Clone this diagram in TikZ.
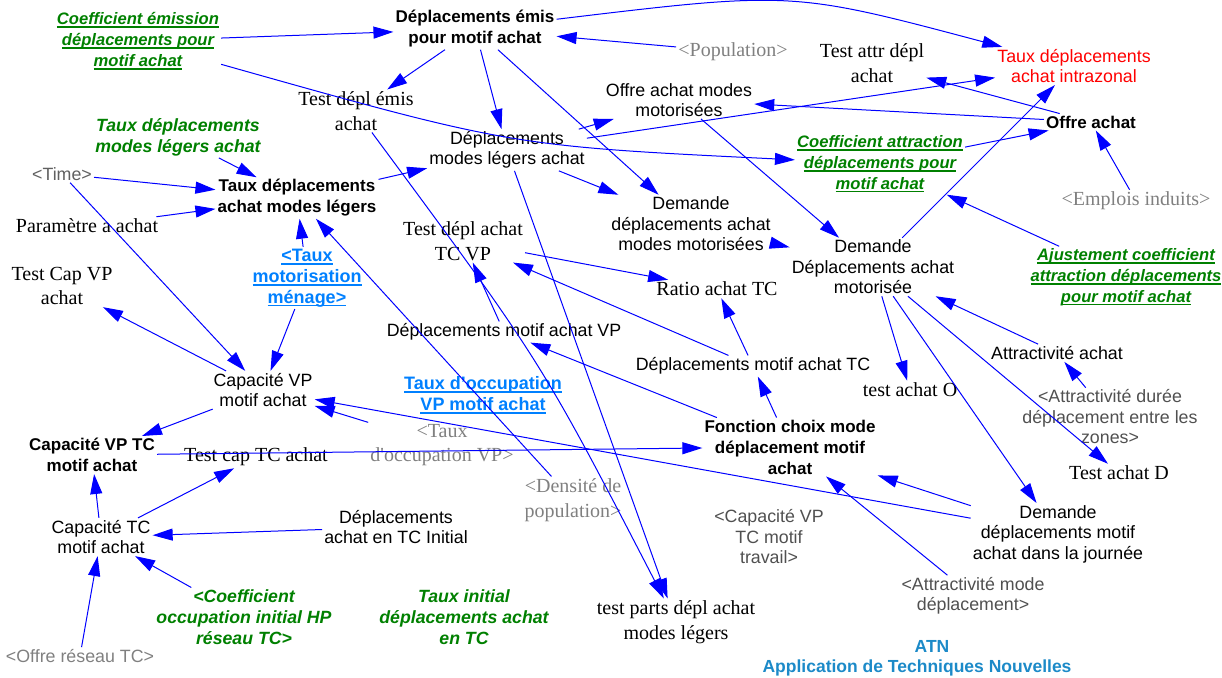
\documentclass[tikz,border=0pt]{standalone}
\usepackage{fontspec}
\setmainfont{Liberation Sans}
\newfontfamily\serifface{Liberation Serif}
\usetikzlibrary{arrows.meta}

\definecolor{linkblue}{RGB}{0,0,255}
\definecolor{levelgreen}{RGB}{0,128,0}
\definecolor{shadowblue}{RGB}{0,128,255}
\definecolor{atnblue}{RGB}{28,138,200}
\definecolor{lightgray}{RGB}{128,128,128}
\definecolor{midgray}{RGB}{96,96,96}
\definecolor{darkgray}{RGB}{80,80,80}

% underline at a fixed depth below the baseline
\newsavebox\ulinebox
\newcommand\ulx[1]{\sbox\ulinebox{#1}\rlap{\rule[-3.3pt]{\wd\ulinebox}{1.6pt}}\usebox\ulinebox}

\tikzset{
  var/.style={align=center, inner sep=2pt, font=\fontsize{17.8}{20.5}\selectfont},
  boldvar/.style={var, font=\fontsize{17}{21}\selectfont\bfseries},
  serifvar/.style={var, font=\serifface\fontsize{20}{24.5}\selectfont},
  greenvar/.style={var, text=levelgreen, font=\fontsize{17.7}{20.8}\selectfont\bfseries\itshape},
  greenulvar/.style={var, text=levelgreen, font=\fontsize{16.6}{20.8}\selectfont\bfseries\itshape},
  bluevar/.style={var, text=shadowblue, font=\fontsize{18}{20.8}\selectfont\bfseries},
  serifshadow/.style={serifvar, text=lightgray},
  conn/.style={draw=linkblue, line width=1pt, -{Triangle[length=20pt,width=12pt]}},
}

\begin{document}
\begin{tikzpicture}[x=1pt,y=-1pt]
\useasboundingbox (0,0) rectangle (1222,677);

% ---- variables ----
\node[greenulvar] (coefE) at (138,41) {\ulx{Coefficient émission}\\\ulx{déplacements pour}\\\ulx{motif achat}};
\node[boldvar] (demis) at (475,29) {Déplacements émis\\pour motif achat};
\node[serifshadow] (pop) at (733,52) {<Population>};
\node[serifvar] (testAttr) at (872,63) {Test attr dépl\\achat};
\node[var, text=red] (tauxIntra) at (1074,66) {Taux déplacements\\achat intrazonal};
\node[var] (offreMM) at (679,100) {Offre achat modes\\motorisées};
\node[boldvar] (offre) at (1091,122) {Offre achat};
\node[serifvar] (testEmis) at (356,111) {Test dépl émis\\achat};
\node[var] (dmlA) at (507,150) {Déplacements\\modes légers achat};
\node[greenvar] (tauxML) at (178,137) {Taux déplacements\\modes légers achat};
\node[greenulvar] (coefA) at (880,164) {\ulx{Coefficient attraction}\\\ulx{déplacements pour}\\\ulx{motif achat}};
\node[var, text=midgray] (time) at (62,174) {<Time>};
\node[boldvar] (tauxAML) at (297,198) {Taux déplacements\\achat modes légers};
\node[serifshadow] (emplois) at (1136,201) {<Emplois induits>};
\node[var] (demMM) at (691,224) {Demande\\déplacements achat\\modes motorisées};
\node[serifvar] (param) at (87,226) {Paramètre a achat};
\node[serifvar] (testTCVP) at (463,241) {Test dépl achat\\TC VP};
\node[var] (demMot) at (873,267) {Demande\\Déplacements achat\\motorisée};
\node[greenulvar] (ajust) at (1126,277) {\ulx{Ajustement coefficient}\\\ulx{attraction déplacements}\\\ulx{pour motif achat}};
\node[serifvar] (ratio) at (717,289) {Ratio achat TC};
\node[bluevar] (tauxMot) at (307,278) {\ulx{<Taux}\\\ulx{motorisation}\\\ulx{ménage>}};
\node[serifvar] (testCapVP) at (62,286) {Test Cap VP\\achat};
\node[var] (dmaVP) at (504,332) {Déplacements motif achat VP};
\node[var] (attrA) at (1057,353) {Attractivité achat};
\node[var] (dmaTC) at (753,366) {Déplacements motif achat TC};
\node[serifvar] (testO) at (910,390) {test achat O};
\node[var] (capVP) at (263,390) {Capacité VP\\motif achat};
\node[bluevar] (tauxOccVPm) at (483,395) {\ulx{Taux d'occupation}\\\ulx{VP motif achat}};
\node[var, text=darkgray] (attrDur) at (1110,417) {<Attractivité durée\\déplacement entre les\\zones>};
\node[serifshadow] (tauxOccVP) at (442,445) {<Taux\\d'occupation VP>};
\node[boldvar] (fonction) at (790,447) {Fonction choix mode\\déplacement motif\\achat};
\node[boldvar] (capVPTC) at (92,455) {Capacité VP TC\\motif achat};
\node[serifvar] (testCapTC) at (256,457) {Test cap TC achat};
\node[serifvar] (testD) at (1119,473) {Test achat D};
\node[serifshadow] (densite) at (573,500) {<Densité de\\population>};
\node[var] (dTCinit) at (396,527) {Déplacements\\achat en TC Initial};
\node[var] (capTC) at (101,537) {Capacité TC\\motif achat};
\node[var, text=darkgray] (capTrav) at (769,537) {<Capacité VP\\TC motif\\travail>};
\node[var] (demJ) at (1058,534) {Demande\\déplacements motif\\achat dans la journée};
\node[greenvar] (coefOcc) at (244,617) {<Coefficient\\occupation initial HP\\réseau TC>};
\node[greenvar] (tauxInit) at (464,617) {Taux initial\\déplacements achat\\en TC};
\node[serifvar] (testParts) at (676,622) {test parts dépl achat\\modes légers};
\node[var, text=darkgray] (attrMode) at (973,596) {<Attractivité mode\\déplacement>};
\node[var, text=lightgray] (offreTC) at (80,656) {<Offre réseau TC>};
\node[boldvar, text=atnblue, font=\fontsize{17.5}{21}\selectfont\bfseries] (atn1) at (932,646) {ATN};
\node[boldvar, text=atnblue, font=\fontsize{17.5}{21}\selectfont\bfseries] (atn2) at (917,668) {Application de Techniques Nouvelles};

% ---- causal links ----
\draw[conn] (coefE) -- (demis);
\draw[conn] (coefE) .. controls (511,146) .. (coefA);
\draw[conn] (demis) .. controls (792,-9) .. (tauxIntra);
\draw[conn] (pop) -- (demis);
\draw[conn] (demis) -- (testEmis);
\draw[conn] (demis) -- (dmlA);
\draw[conn] (demis) -- (demMM);
\draw[conn] (dmlA) -- (offreMM);
\draw[conn] (dmlA) -- (tauxIntra);
\draw[conn] (offre) -- (offreMM);
\draw[conn] (offre) -- (testAttr);
\draw[conn] (coefA) -- (offre);
\draw[conn] (emplois) -- (offre);
\draw[conn] (demMot) -- (tauxIntra);
\draw[conn] (ajust) -- (coefA);
\draw[conn] (offreMM) -- (demMot);
\draw[conn] (demMM) -- (demMot);
\draw[conn] (dmlA) -- (demMM);
\draw[conn] (tauxAML) -- (dmlA);
\draw[conn] (tauxML) -- (tauxAML);
\draw[conn] (time) -- (tauxAML);
\draw[conn] (time) -- (capVP);
\draw[conn] (param) -- (tauxAML);
\draw[conn] (tauxMot) -- (tauxAML);
\draw[conn] (densite) -- (tauxAML);
\draw[conn] (testEmis) .. controls (541,361) .. (testParts);
\draw[conn] (dmlA) -- (testParts);
\draw[conn] (testTCVP) -- (ratio);
\draw[conn] (dmaVP) -- (testTCVP);
\draw[conn] (dmaTC) -- (testTCVP);
\draw[conn] (dmaTC) -- (ratio);
\draw[conn] (fonction) -- (dmaVP);
\draw[conn] (fonction) -- (dmaTC);
\draw[conn] (capVPTC) -- (fonction);
\draw[conn] (demJ) -- (capVP);
\draw[conn] (tauxOccVP) -- (capVP);
\draw[conn] (demJ) -- (fonction);
\draw[conn] (attrMode) -- (fonction);
\draw[conn] (demMot) -- (testO);
\draw[conn] (demMot) -- (demJ);
\draw[conn] (demMot) -- (testD);
\draw[conn] (attrA) -- (demMot);
\draw[conn] (attrDur) -- (attrA);
\draw[conn] (capVP) -- (capVPTC);
\draw[conn] (capVP) -- (testCapVP);
\draw[conn] (tauxMot) -- (capVP);
\draw[conn] (capTC) -- (capVPTC);
\draw[conn] (capTC) -- (testCapTC);
\draw[conn] (dTCinit) -- (capTC);
\draw[conn] (coefOcc) -- (capTC);
\draw[conn] (offreTC) -- (capTC);
\end{tikzpicture}
\end{document}
